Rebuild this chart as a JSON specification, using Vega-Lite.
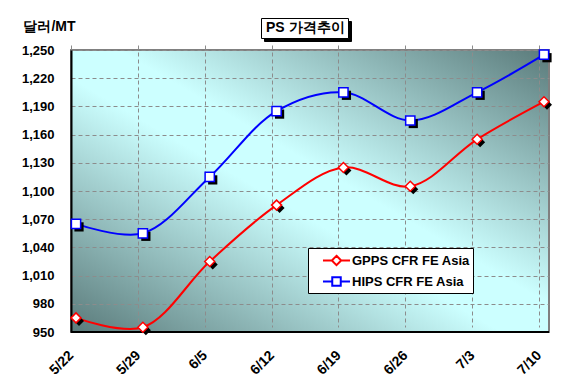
{
  "$schema": "https://vega.github.io/schema/vega-lite/v6.json",
  "width": 478,
  "height": 282,
  "autosize": {"type": "none"},
  "padding": {"left": 71, "top": 50, "right": 33, "bottom": 52},
  "background": "white",
  "config": {
    "font": "Liberation Sans",
    "view": {
      "stroke": "#808080",
      "strokeWidth": 2,
      "fill": {"gradient": "linear", "x1": 0, "y1": 1, "x2": 1, "y2": 0, "stops": [
        {"offset": 0, "color": "#5a7a7a"},
        {"offset": 0.45, "color": "#ccffff"},
        {"offset": 0.55, "color": "#ccffff"},
        {"offset": 1, "color": "#5a7a7a"}
      ]}
    }
  },
  "datasets": {
    "prices": [
      {"date": "5/22", "series": "GPPS CFR FE Asia", "price": 965},
      {"date": "5/29", "series": "GPPS CFR FE Asia", "price": 955},
      {"date": "6/5", "series": "GPPS CFR FE Asia", "price": 1025},
      {"date": "6/12", "series": "GPPS CFR FE Asia", "price": 1085},
      {"date": "6/19", "series": "GPPS CFR FE Asia", "price": 1125},
      {"date": "6/26", "series": "GPPS CFR FE Asia", "price": 1105},
      {"date": "7/3", "series": "GPPS CFR FE Asia", "price": 1155},
      {"date": "7/10", "series": "GPPS CFR FE Asia", "price": 1195},
      {"date": "5/22", "series": "HIPS CFR FE Asia", "price": 1065},
      {"date": "5/29", "series": "HIPS CFR FE Asia", "price": 1055},
      {"date": "6/5", "series": "HIPS CFR FE Asia", "price": 1115},
      {"date": "6/12", "series": "HIPS CFR FE Asia", "price": 1185},
      {"date": "6/19", "series": "HIPS CFR FE Asia", "price": 1205},
      {"date": "6/26", "series": "HIPS CFR FE Asia", "price": 1175},
      {"date": "7/3", "series": "HIPS CFR FE Asia", "price": 1205},
      {"date": "7/10", "series": "HIPS CFR FE Asia", "price": 1245}
    ],
    "base": [{"price": 950}]
  },
  "data": {"name": "prices"},
  "encoding": {
    "y": {"field": "price", "type": "quantitative",
      "scale": {"domain": [950, 1250], "nice": false, "zero": false},
      "axis": {"title": "달러/MT", "titleAngle": 0, "titleX": -22, "titleY": -24, "titleAlign": "center", "titleBaseline": "middle", "titleFontSize": 14, "titleFontWeight": "bold", "titleColor": "black",
        "values": [950, 980, 1010, 1040, 1070, 1100, 1130, 1160, 1190, 1220, 1250], "format": ",d", "labelOverlap": false, "labelSeparation": 0, "labelFontSize": 13, "labelFontWeight": "bold", "labelColor": "black", "labelPadding": 17, "ticks": false, "domainColor": "black", "domainWidth": 2, "grid": true, "gridColor": "#8c8c8c", "gridDash": [4, 3], "gridWidth": 1}}
  },
  "layer": [
    {
      "mark": {"type": "line", "interpolate": "catmull-rom", "strokeWidth": 2},
      "encoding": {
        "x": {"field": "date", "type": "ordinal", "sort": null,
          "scale": {"type": "point", "padding": 0.075},
          "axis": {"title": null, "labelAngle": -45, "labelAlign": "right", "labelBaseline": "middle", "labelFontSize": 14, "labelFontWeight": "bold", "labelColor": "black", "labelPadding": 26, "ticks": false, "domain": false, "grid": true, "gridColor": "#8c8c8c", "gridDash": [4, 3], "gridWidth": 1, "translate": -4.5}},
        "stroke": {"field": "series", "type": "nominal", "scale": {"domain": ["GPPS CFR FE Asia", "HIPS CFR FE Asia"], "range": ["#ff0000", "#0000ff"]},
          "legend": {"title": null, "orient": "none", "legendX": 237, "legendY": 198, "fillColor": "white", "strokeColor": "black", "padding": 3, "zindex": 1,
            "labelFontSize": 13, "labelFontWeight": "bold", "labelColor": "black", "symbolSize": 289, "symbolStrokeWidth": 2, "symbolFillColor": "white", "symbolOpacity": 1, "rowPadding": 2, "labelOffset": 6, "symbolOffset": 16}}
      }
    },
    {
      "data": {"name": "base"},
      "mark": {"type": "rule", "strokeWidth": 2},
      "encoding": {
        "color": {"datum": "PS 가격추이", "type": "nominal", "scale": {"range": ["black"]},
          "legend": {"title": null, "orient": "none", "legendX": 190, "legendY": -32, "fillColor": "white", "strokeColor": "black", "padding": 3, "zindex": 2,
            "symbolSize": 0, "symbolStrokeWidth": 0, "symbolOpacity": 0, "labelOffset": -12, "labelFontSize": 14, "labelFontWeight": "bold", "labelColor": "black"}},
        "opacity": {"datum": "PS 가격추이 그림자", "type": "ordinal", "scale": {"range": [1]},
          "legend": {"title": null, "orient": "none", "legendX": 193, "legendY": -29, "fillColor": "black", "strokeColor": "black", "padding": 3, "zindex": 1,
            "labelExpr": "'PS 가격추이'", "labelOpacity": 0,
            "symbolSize": 0, "symbolStrokeWidth": 0, "symbolOpacity": 0, "labelOffset": -12, "labelFontSize": 14, "labelFontWeight": "bold", "labelColor": "black"}}
      }
    },
    {
      "transform": [{"filter": "datum.series === 'GPPS CFR FE Asia'"}],
      "mark": {"type": "point", "shape": "diamond", "filled": true, "color": "black", "size": 100, "xOffset": 3, "yOffset": 3, "opacity": 1},
      "encoding": {"x": {"field": "date", "type": "ordinal", "sort": null}}
    },
    {
      "transform": [{"filter": "datum.series === 'HIPS CFR FE Asia'"}],
      "mark": {"type": "point", "shape": "square", "filled": true, "color": "black", "size": 85, "xOffset": 3, "yOffset": 3, "opacity": 1},
      "encoding": {"x": {"field": "date", "type": "ordinal", "sort": null}}
    },
    {
      "transform": [{"filter": "datum.series === 'GPPS CFR FE Asia'"}],
      "mark": {"type": "point", "shape": "diamond", "filled": true, "fill": "white", "stroke": "#ff0000", "strokeWidth": 1.5, "size": 100, "opacity": 1},
      "encoding": {"x": {"field": "date", "type": "ordinal", "sort": null}}
    },
    {
      "transform": [{"filter": "datum.series === 'HIPS CFR FE Asia'"}],
      "mark": {"type": "point", "shape": "square", "filled": true, "fill": "white", "stroke": "#0000ff", "strokeWidth": 1.5, "size": 85, "opacity": 1},
      "encoding": {"x": {"field": "date", "type": "ordinal", "sort": null}}
    },
    {
      "mark": {"type": "point", "opacity": 0},
      "encoding": {
        "x": {"field": "date", "type": "ordinal", "sort": null},
        "stroke": {"field": "series", "type": "nominal"},
        "shape": {"field": "series", "type": "nominal",
          "scale": {"domain": ["GPPS CFR FE Asia", "HIPS CFR FE Asia"], "range": ["M-1.59,0H-0.55M0.55,0H1.59M0,-0.55L0.55,0L0,0.55L-0.55,0Z", "M-1.59,0H-0.5M0.5,0H1.59M-0.5,-0.5H0.5V0.5H-0.5Z"]},
          "legend": {"title": null, "orient": "none", "legendX": 237, "legendY": 198, "fillColor": "white", "strokeColor": "black", "padding": 3, "zindex": 1,
            "labelFontSize": 13, "labelFontWeight": "bold", "labelColor": "black", "symbolSize": 289, "symbolStrokeWidth": 2, "symbolFillColor": "white", "symbolOpacity": 1, "rowPadding": 2, "labelOffset": 6, "symbolOffset": 16}}
      }
    }
  ]
}
